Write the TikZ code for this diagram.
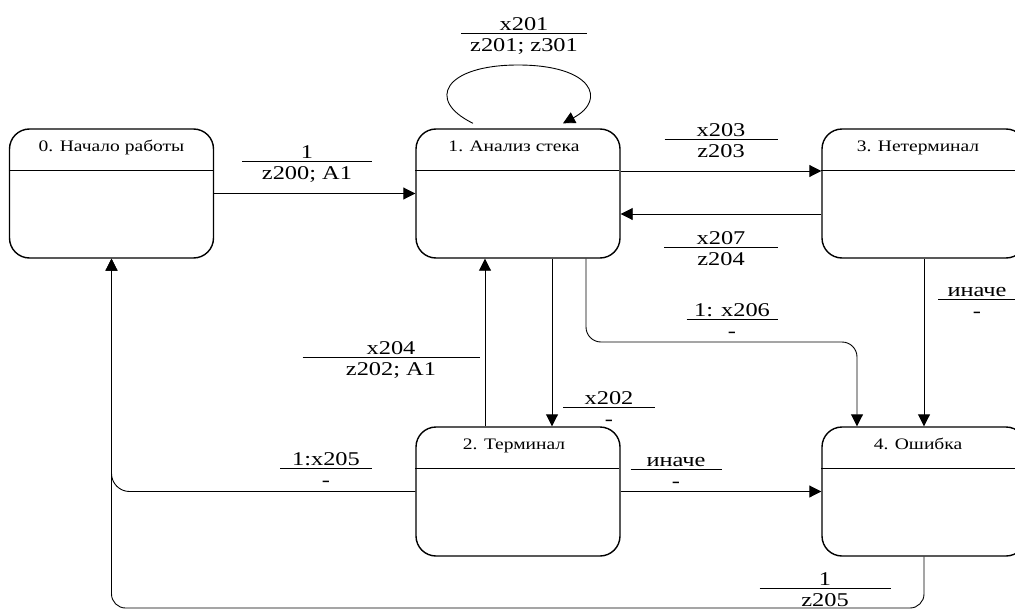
\documentclass[tikz,border=0pt]{standalone}
\usepackage{fontspec}
\setmainfont{Liberation Serif}
\newfontfamily\lblfont[FakeStretch=1.25]{Liberation Serif}
\newfontfamily\ttlfont[FakeStretch=1.22]{Liberation Serif}
\usetikzlibrary{arrows.meta}
\tikzset{
  state/.style={draw, line width=1.4pt, rounded corners=20pt, minimum width=204pt, minimum height=129pt, inner sep=0pt},
  divider/.style={line width=1.4pt},
  title/.style={font=\ttlfont\fontsize{16}{18}\selectfont, anchor=base, inner sep=0pt},
  lbl/.style={font=\lblfont\fontsize{19.5}{22}\selectfont, anchor=base, inner sep=0pt},
  conn/.style={line width=0.9pt, -{Triangle[length=12pt,width=12pt]}},
  rulel/.style={line width=0.9pt}
}
\newcommand\trlab[6]{%
  \draw[rulel] (#2-#4/2,#3) -- (#2+#4/2,#3);
  \node[lbl] (#1t) at (#2,#3-3) {#5};
  \node[lbl] (#1b) at (#2,#3+18) {#6};}
\begin{document}
\begin{tikzpicture}[x=1pt,y=-1pt]
\useasboundingbox (0,0) rectangle (1015,613);
% states
\node[state] (s0) at (111.5,193.5) {};
\node[state] (s1) at (518,193.5) {};
\node[state] (s3) at (924,193.5) {};
\node[state] (s2) at (518,491.5) {};
\node[state] (s4) at (924,491.5) {};
\foreach \s in {s0,s1,s3,s2,s4}{
  \draw[divider] (\s.north west) ++(0,42) -- ++(204,0);
}
\node[title] (t0) at ([yshift=-23pt]s0.north) {0. Начало работы};
\node[title] (t1) at ([xshift=-4pt,yshift=-23pt]s1.north) {1. Анализ стека};
\node[title] (t3) at ([xshift=-6pt,yshift=-23pt]s3.north) {3. Нетерминал};
\node[title] (t2) at ([xshift=-4pt,yshift=-23pt]s2.north) {2. Терминал};
\node[title] (t4) at ([xshift=-6pt,yshift=-23pt]s4.north) {4. Ошибка};
% connectors
\draw[conn] (s0.east) -- (s1.west);
\draw[conn] ([xshift=-45pt,yshift=5pt]s1.north) .. controls (425,100) and (445,65) .. (518,65)
  .. controls (593,65) and (607,100) .. ([xshift=45pt,yshift=5pt]s1.north);
\draw[conn] ([yshift=22.5pt]s1.east) -- ([yshift=22.5pt]s3.west);
\draw[conn] ([yshift=-20.5pt]s3.west) -- ([yshift=-20.5pt]s1.east);
\draw[conn] (s3.south) -- (s4.north);
\coordinate (c14) at (857,342);
\draw[conn, rounded corners=15pt] ([xshift=68pt]s1.south) |- (c14) -- ([xshift=-67pt]s4.north);
\draw[conn] ([xshift=34pt]s1.south) -- ([xshift=34pt]s2.north);
\draw[conn] ([xshift=-33pt]s2.north) -- ([xshift=-33pt]s1.south);
\draw[conn] (s2.east) -- (s4.west);
\draw[conn, rounded corners=18pt] (s2.west) -| (s0.south);
\coordinate (bl) at (111.5,608);
\draw[conn, rounded corners=14pt] (s4.south) |- (bl) -- (s0.south);
% labels
\trlab{l01}{307}{161}{130}{1}{z200; A1}
\trlab{l11}{524}{33}{126}{x201}{z201; z301}
\trlab{l13}{721}{139}{113}{x203}{z203}
\trlab{l31}{721}{247}{114}{x207}{z204}
\trlab{l14}{732}{319}{91}{1: x206}{-}
\trlab{l34}{977}{299}{78}{иначе}{-}
\trlab{l21}{391}{357}{177}{x204}{z202; A1}
\trlab{l12}{609}{407}{92}{x202}{-}
\trlab{l24}{676}{469}{91}{иначе}{-}
\trlab{l20}{326}{468}{92}{1:x205}{-}
\trlab{l40}{825}{588}{131}{1}{z205}
\end{tikzpicture}
\end{document}
